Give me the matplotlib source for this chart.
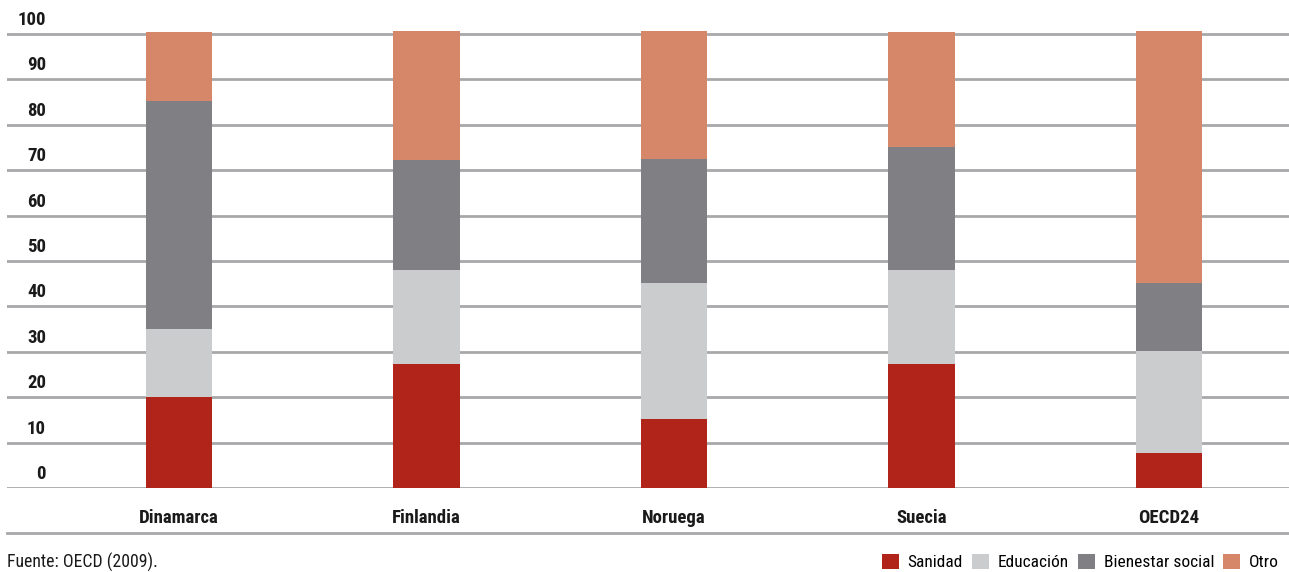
import matplotlib
matplotlib.use("Agg")
import matplotlib.pyplot as plt
import matplotlib.font_manager as fm
from matplotlib.patches import Patch
from matplotlib.lines import Line2D
from matplotlib.transforms import ScaledTranslation, blended_transform_factory


def _narrow_font():
    """Busca una fuente estrecha instalada (parecida a Gill Sans condensada)."""
    candidates = ["Liberation Sans Narrow", "DejaVu Sans Condensed", "Roboto Condensed",
                  "Open Sans Condensed", "Noto Sans Condensed", "Lato"]
    installed = {f.name for f in fm.fontManager.ttflist}
    for name in candidates:
        if name in installed:
            return name
    return "DejaVu Sans"


FONT = _narrow_font()
plt.rcParams["font.family"] = [FONT, "DejaVu Sans"]

# datos (% del gasto)
paises = ["Dinamarca", "Finlandia", "Noruega", "Suecia", "OECD24"]
sanidad = [20.0, 27.3, 15.2, 27.3, 7.7]
educacion = [15.0, 20.7, 30.0, 20.7, 22.5]
bienestar = [50.2, 24.2, 27.3, 27.1, 15.0]
otro = [15.2, 28.4, 28.1, 25.3, 55.4]
yticks = [0, 10, 20, 30, 40, 50, 60, 70, 80, 90, 100]

ROJO = "#B0241A"
GRIS_CLARO = "#CBCCCE"
GRIS_OSCURO = "#808084"
NARANJA = "#D6876A"
LINEA = "#A8A8AA"
TEXTO = "#1a1a1a"

W, H = 1289, 572
fig = plt.figure(figsize=(W / 100, H / 100), dpi=100)

# ejes en pixeles: 0 -> y=488, 100 -> y=34
px_per_unit = (488 - 34) / 100
top_val = 104
ax_h = top_val * px_per_unit
ax = fig.add_axes([7 / W, (H - 488) / H, (W - 7) / W, ax_h / H])

x = range(len(paises))
w = 0.267
series = [(sanidad, ROJO), (educacion, GRIS_CLARO), (bienestar, GRIS_OSCURO), (otro, NARANJA)]
bottom = [0.0] * len(paises)
for vals, col in series:
    ax.bar(x, vals, w, bottom=bottom, color=col, zorder=3, linewidth=0)
    bottom = [b + v for b, v in zip(bottom, vals)]

ax.set_xlim(-0.695, 4.485)
ax.set_ylim(0, top_val)
ax.set_yticks(yticks)
ax.set_yticklabels([])
ax.yaxis.grid(True, color=LINEA, linewidth=2, zorder=0)
for s in ax.spines.values():
    s.set_visible(False)
ax.tick_params(axis="both", length=0)

# etiquetas del eje y: encima de cada linea, alineadas a la derecha en x=46px
tr = blended_transform_factory(ax.transAxes, ax.transData) + \
    ScaledTranslation(39 / 100, 14 / 100, fig.dpi_scale_trans)
for t in yticks:
    ax.text(0, t, str(t), transform=tr, ha="right", va="center",
            fontsize=13.5, fontweight="bold", color=TEXTO)

ax.set_xticks(list(x))
ax.set_xticklabels(paises, fontsize=13.5, fontweight="bold", color=TEXTO)
ax.tick_params(axis="x", pad=15)

# linea inferior bajo las etiquetas
fig.lines.append(Line2D([7 / W, 1], [(H - 533) / H] * 2, transform=fig.transFigure,
                        color=LINEA, linewidth=2))

fig.text(7 / W, (H - 562) / H, "Fuente: OECD (2009).", fontsize=12.8, color=TEXTO,
         va="center", ha="left")

handles = [Patch(facecolor=c, edgecolor="none") for _, c in series]
fig.legend(handles, ["Sanidad", "Educación", "Bienestar social", "Otro"],
           loc="center right", bbox_to_anchor=(0.992, (H - 562) / H), ncol=4,
           frameon=False, fontsize=12.5, handlelength=1.0, handleheight=1.0,
           handletextpad=0.5, columnspacing=0.5, borderaxespad=0.0, borderpad=0.0)

fig.savefig("out.png", dpi=100, facecolor="white")
